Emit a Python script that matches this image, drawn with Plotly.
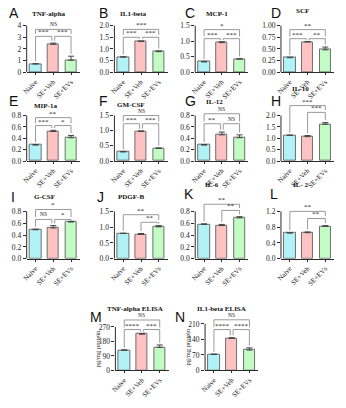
import plotly.graph_objects as go

# ---------------- data ----------------
groups = ["Naive", "SE+Veh", "SE+EVs"]
letters = ["A", "B", "C", "D", "E", "F", "G", "H", "I", "J", "K", "L", "M", "N"]
titles = ["TNF-alpha", "IL1-beta", "MCP-1", "SCF", "MIP-1a", "GM-CSF", "IL-12",
          "IL-10", "G-CSF", "PDGF-B", "IL-6", "IL- 2", "TNF-alpha ELISA",
          "IL1-beta ELISA"]
means = [
    [0.70, 2.40, 1.02],
    [0.65, 1.32, 0.88],
    [0.33, 0.95, 0.42],
    [0.31, 0.65, 0.48],
    [0.28, 0.52, 0.41],
    [0.30, 0.98, 0.42],
    [0.28, 0.46, 0.41],
    [1.13, 1.07, 1.62],
    [0.49, 0.52, 0.62],
    [0.80, 0.77, 1.01],
    [0.58, 0.56, 0.69],
    [0.65, 0.66, 0.82],
    [125, 225, 143],
    [72, 145, 92],
]
errors = [
    [0.03, 0.10, 0.35],
    [0.01, 0.02, 0.03],
    [0.01, 0.03, 0.01],
    [0.01, 0.01, 0.06],
    [0.01, 0.02, 0.04],
    [0.01, 0.01, 0.01],
    [0.01, 0.05, 0.05],
    [0.01, 0.05, 0.07],
    [0.01, 0.04, 0.01],
    [0.01, 0.03, 0.04],
    [0.01, 0.02, 0.02],
    [0.01, 0.02, 0.02],
    [3, 3, 15],
    [2, 3, 10],
]
ytick_vals = [
    [0, 1, 2, 3, 4],
    [0, 0.5, 1.0, 1.5, 2.0],
    [0, 0.5, 1.0, 1.5],
    [0, 0.25, 0.5, 0.75, 1.0],
    [0, 0.2, 0.4, 0.6, 0.8],
    [0, 0.5, 1.0, 1.5],
    [0, 0.2, 0.4, 0.6, 0.8],
    [0, 0.5, 1.0, 1.5, 2.0],
    [0, 0.2, 0.4, 0.6, 0.8],
    [0, 0.5, 1.0, 1.5],
    [0, 0.2, 0.4, 0.6, 0.8],
    [0, 0.4, 0.8, 1.2],
    [0, 90, 180, 270],
    [0, 70, 140, 210],
]
ytick_text = [
    ["0", "1", "2", "3", "4"],
    ["0.0", "0.5", "1.0", "1.5", "2.0"],
    ["0.0", "0.5", "1.0", "1.5"],
    ["0.00", "0.25", "0.50", "0.75", "1.00"],
    ["0.0", "0.2", "0.4", "0.6", "0.8"],
    ["0.0", "0.5", "1.0", "1.5"],
    ["0.0", "0.2", "0.4", "0.6", "0.8"],
    ["0.0", "0.5", "1.0", "1.5", "2.0"],
    ["0.0", "0.2", "0.4", "0.6", "0.8"],
    ["0.0", "0.5", "1.0", "1.5"],
    ["0.0", "0.2", "0.4", "0.6", "0.8"],
    ["0.0", "0.4", "0.8", "1.2"],
    ["0", "90", "180", "270"],
    ["0", "70", "140", "210"],
]
comparisons = [
    [(0, 1, "***"), (1, 2, "***"), (0, 2, "NS")],
    [(0, 1, "***"), (1, 2, "***"), (0, 2, "***")],
    [(0, 1, "***"), (1, 2, "***"), (0, 2, "*")],
    [(0, 1, "***"), (1, 2, "**"), (0, 2, "**")],
    [(0, 1, "***"), (1, 2, "*"), (0, 2, "**")],
    [(0, 1, "***"), (1, 2, "***"), (0, 2, "NS")],
    [(0, 1, "**"), (1, 2, "NS"), (0, 2, "NS")],
    [(1, 2, "***"), (0, 2, "***")],
    [(0, 1, "NS"), (1, 2, "*"), (0, 2, "*")],
    [(1, 2, "**"), (0, 2, "**")],
    [(1, 2, "**"), (0, 2, "**")],
    [(1, 2, "**"), (0, 2, "**")],
    [(0, 1, "****"), (1, 2, "***"), (0, 2, "NS")],
    [(0, 1, "****"), (1, 2, "****"), (0, 2, "NS")],
]

# ---------------- layout / style config ----------------
W, H = 346, 408
bar_colors = ["#b0f2f6", "#ffc2c2", "#c2fcc4"]
bar_line = "#6e6e6e"
axis_col = "#2b2b2b"
brk_col = "#9a9a9a"
serif = "Liberation Serif"
sans = "Liberation Sans"
K = 1.35                      # range headroom above top tick
plot_w = 54
col_left = [22, 111, 193, 280]
# (zero px, top tick px) per panel
rows_px = [(73, 26)] * 4 + [(163, 117)] * 4 + [(262, 214)] * 4 + [(375, 331), (375, 328)]
left_px = col_left * 3 + [112, 203]
letter_y = [13, 13, 13, 13, 102, 102, 102, 102, 199, 199, 196, 196, 321, 321]
title_y = [14, 14, 14, 11, 107, 106, 103, 90, 199, 199, 187, 187, 313, 313]
letter_x = [9, 100, 188, 275, 9, 100, 188, 275, 8, 97, 187, 273, 92, 178]
title_x = [45, 130, 215, 302, 41, 128, 213, 300, 40, 128, 210, 300, 132, 220]
# bracket levels as fraction of top tick: (lower, upper)
bracket_frac = [(.77, .92), (.75, .92), (.72, .915), (.72, .915), (.78, .955),
                (.82, 1.0), (.82, 1.04), (1.07, 1.22), (.83, 1.04), (.77, .93),
                (1.02, 1.15), (.85, 1.0), (.94, 1.16), (.88, 1.09)]

fig = go.Figure()
shapes = []
annotations = []

for k in range(14):
    n = k + 1
    xa = "x" if n == 1 else f"x{n}"
    ya = "y" if n == 1 else f"y{n}"
    left = left_px[k]
    zero_px, top_px = rows_px[k]
    ymax = ytick_vals[k][-1]
    dom_top_px = zero_px - (zero_px - top_px) * K

    fig.add_trace(go.Bar(
        x=[0, 1, 2], y=means[k], xaxis=xa, yaxis=ya, width=0.66,
        marker=dict(color=bar_colors, line=dict(color=bar_line, width=1)),
        error_y=dict(type="data", symmetric=False, array=errors[k],
                     arrayminus=[0, 0, 0], color="#444444", thickness=1, width=3),
        showlegend=False, hoverinfo="skip"))

    fig.layout[("xaxis" if n == 1 else f"xaxis{n}")] = dict(
        domain=[left / W, (left + plot_w) / W], anchor=ya, range=[-0.5, 2.5],
        tickvals=[0, 1, 2], ticktext=groups, tickangle=-45,
        tickfont=dict(family=serif, size=7, color="#1a1a1a"),
        showline=True, linecolor=axis_col, linewidth=1, ticks="outside",
        ticklen=2, tickwidth=1, tickcolor=axis_col, showgrid=False,
        zeroline=False, fixedrange=True)
    fig.layout[("yaxis" if n == 1 else f"yaxis{n}")] = dict(
        domain=[1 - zero_px / H, 1 - dom_top_px / H], anchor=xa,
        range=[0, ymax * K], tickvals=ytick_vals[k], ticktext=ytick_text[k],
        tickfont=dict(family=serif, size=7.5, color="#1a1a1a"),
        showline=False, ticks="outside", ticklen=3, tickwidth=1,
        tickcolor=axis_col, showgrid=False, zeroline=False, fixedrange=True)

    # y axis line only up to the top tick
    shapes.append(dict(type="line", xref=f"{xa} domain", yref=ya, x0=0, x1=0,
                       y0=0, y1=ymax, line=dict(color=axis_col, width=1)))

    # significance brackets
    lo_f, hi_f = bracket_frac[k]
    tops = [m + e for m, e in zip(means[k], errors[k])]
    comps = comparisons[k]
    gap = 0.05 * ymax
    lower = [cp for cp in comps if cp[1] - cp[0] == 1]
    placed = []
    for (i, j, lab) in comps:
        level = (lo_f if (j - i) == 1 else hi_f) * ymax
        xi, xj = float(i), float(j)
        if (j - i) == 1 and len(lower) == 2:
            if i == 1:
                xi += 0.08
            if j == 1:
                xj -= 0.08
        ends = []
        for cat, xx in ((i, xi), (j, xj)):
            base = tops[cat]
            for (pi, pj, plev) in placed:
                if pi <= cat <= pj and plev < level:
                    base = max(base, plev)
            bottom = base + gap
            if bottom > level - 0.03 * ymax:
                bottom = level - 0.03 * ymax
            ends.append((xx, bottom))
        (x0, b0), (x1, b1) = ends
        for seg in ((x0, b0, x0, level), (x0, level, x1, level), (x1, level, x1, b1)):
            shapes.append(dict(type="line", xref=xa, yref=ya, x0=seg[0], y0=seg[1],
                               x1=seg[2], y1=seg[3],
                               line=dict(color=brk_col, width=1)))
        placed.append((i, j, level))
        is_ns = lab == "NS"
        annotations.append(dict(
            x=(xi + xj) / 2, y=level, xref=xa, yref=ya, text=lab,
            showarrow=False, yanchor="bottom", yshift=-2 if not is_ns else 0,
            font=dict(family=serif, size=5.5 if is_ns else 7, color="#1a1a1a")))

    # panel letter and title
    annotations.append(dict(
        x=letter_x[k] / W, y=1 - letter_y[k] / H, xref="paper", yref="paper",
        text=letters[k], showarrow=False, xanchor="center", yanchor="middle",
        font=dict(family=sans, size=14, color="#111111")))
    annotations.append(dict(
        x=title_x[k] / W, y=1 - title_y[k] / H, xref="paper", yref="paper",
        text=f"<b>{titles[k]}</b>", showarrow=False, xanchor="center",
        yanchor="middle", font=dict(family=serif, size=7, color="#111111")))

    if k >= 12:
        annotations.append(dict(
            x=(left - 18) / W, y=1 - ((zero_px + top_px) / 2) / H, xref="paper",
            yref="paper", text="pg/mg protein", textangle=-90, showarrow=False,
            xanchor="center", yanchor="middle",
            font=dict(family=serif, size=6.5, color="#1a1a1a")))

fig.update_layout(
    width=W, height=H, margin=dict(l=0, r=0, t=0, b=0),
    paper_bgcolor="white", plot_bgcolor="rgba(0,0,0,0)",
    shapes=shapes, annotations=annotations, bargap=0,
)

fig.write_html("out.html")
